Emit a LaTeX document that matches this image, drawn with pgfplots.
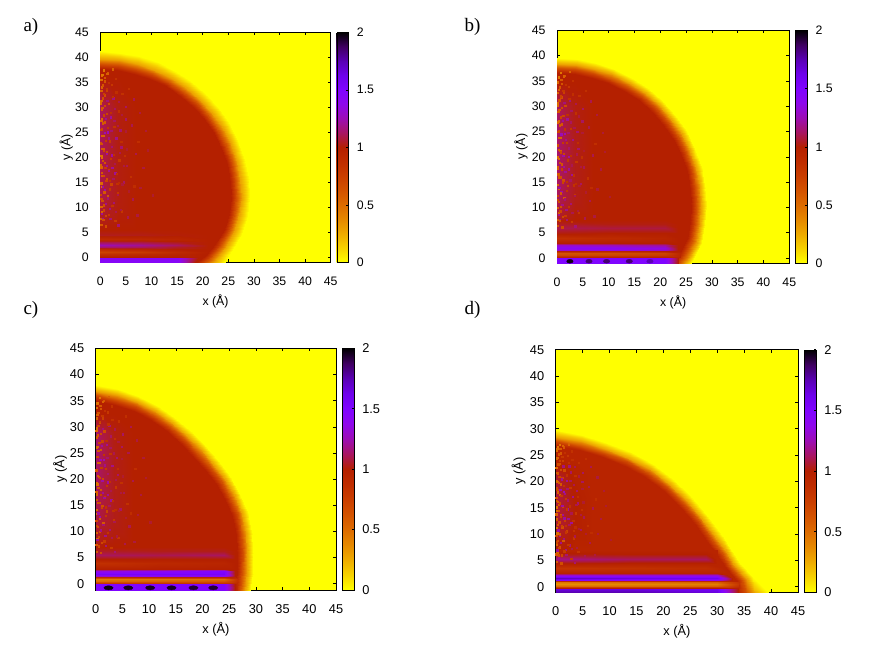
\documentclass[border=0pt]{standalone}
\usepackage{pgfplots}
\usepackage{pgfplotstable}
\pgfplotsset{compat=1.18}
\usepackage{fontspec}
\setmainfont{Liberation Sans}
\newfontfamily\lab{Liberation Serif}
\definecolor{yy}{rgb}{1,1,0}
\pgfplotstableread{
x y v
0.2 6.5 .6
0.5 7.6 1.2
1.1 8.3 .7
0.3 9.1 .55
1.8 9.7 1.18
0.7 10.4 .65
2.6 10.9 1.15
0.2 11.7 .7
1.4 12.2 .6
3.4 12.8 .8
0.8 13.4 1.22
0.3 14.1 .5
2.1 14.6 .72
4.6 15.0 1.12
1.2 15.7 .66
0.4 16.3 .6
2.9 16.8 1.2
1.7 17.4 .75
0.2 18.0 .55
5.2 18.3 1.1
0.9 18.9 .62
3.7 19.4 .8
0.3 20.0 .48
2.2 20.4 1.22
1.3 21.1 .7
0.6 21.6 .58
4.1 22.0 1.14
0.2 22.7 .62
1.9 23.2 .78
3.1 23.8 1.18
0.7 24.3 .55
1.5 25.0 1.25
0.3 25.6 .7
2.7 26.1 .82
6.1 26.4 1.1
0.9 27.0 .6
0.3 27.6 .52
2.0 28.0 1.2
1.2 28.7 .72
3.6 29.2 .85
0.4 29.9 .6
5.0 30.1 1.12
1.6 30.7 .68
0.2 31.3 .5
2.5 31.8 1.16
0.8 32.4 .66
4.3 32.7 .85
1.3 33.3 .74
0.3 34.0 .55
2.2 34.5 .8
0.9 35.2 .62
3.0 35.7 .85
0.3 36.3 .5
1.5 36.8 .6
0.7 37.4 .45
2.4 37.6 .55
7.2 8.4 1.08
6.3 11.6 1.1
7.8 13.9 1.07
5.9 16.1 .85
8.4 17.9 1.08
6.9 20.7 1.1
7.4 23.1 .87
8.9 25.3 1.07
4.9 27.6 1.12
7.7 28.9 1.08
6.5 31.6 1.1
5.6 33.7 .86
2.9 7.3 .78
4.2 9.2 .82
3.5 6.4 1.15
1.0 6.2 .66
5.4 8.0 1.1
3.9 25.4 1.14
2.3 17.9 1.2
4.8 20.3 .85
3.3 14.7 .84
6.6 14.2 .88
9.3 21.4 1.06
10.2 12.4 1.06
}\specks
\pgfplotsset{
 colormap={gp}{
  rgb(0pt)=(1,1,0); rgb(1pt)=(.968,.824,0); rgb(2pt)=(.935,.670,0); rgb(3pt)=(.901,.536,0);
  rgb(4pt)=(.866,.422,0); rgb(5pt)=(.829,.325,0); rgb(6pt)=(.791,.244,0); rgb(7pt)=(.75,.178,0);
  rgb(8pt)=(.707,.125,0); rgb(9pt)=(.661,.084,.383); rgb(10pt)=(.612,.053,.707); rgb(11pt)=(.559,.031,.924);
  rgb(12pt)=(.5,.016,1); rgb(13pt)=(.433,.007,.924); rgb(14pt)=(.354,.002,.707); rgb(15pt)=(.25,0,.383);
  rgb(16pt)=(0,0,0)},
 hm/.style n args={7}{% left, bottom, width, height, ymin, fontsize, ylabel shift
  at={(#1pt,#2pt)}, anchor=south west, scale only axis, width=#3pt, height=#4pt,
  xmin=0, xmax=45, ymin=#5, ymax=45, xtick={0,5,...,45}, ytick={0,5,...,45},
  axis background/.style={fill=yy},
  tick align=inside, major tick length=3pt, tick style={black, line width=.5pt},
  axis line style={line width=.6pt},
  /pgf/number format/assume math mode=true,
  ticklabel style={font=\fontsize{#6}{#6}\selectfont},
  label style={font=\fontsize{#6}{#6}\selectfont},
  xticklabel shift=11pt, yticklabel shift=8pt,
  xlabel={x (Å)}, ylabel={y (Å)},
  x label style={at={(axis description cs:0.5,0)},anchor=center,yshift=-39.4pt},
  y label style={at={(axis description cs:0,0.5)},anchor=center,yshift=#7pt},
  colormap name=gp, point meta min=0, point meta max=2,
  colorbar,
  colorbar style={at={(parent axis.north east)},anchor=north west,xshift=-2.5pt,
    width=11.7pt, height=#4pt, scale only axis, ytick={0,0.5,1,1.5,2},
    tick align=inside, major tick length=2pt, ytick pos=right,
    /pgf/number format/assume math mode=true,
    yticklabel style={font=\fontsize{#6}{#6}\selectfont},
    yticklabel shift=5pt},
 },
 dome/.style={surf, shader=interp, mesh/cols=5, mesh/check=false, point meta=\thisrow{v}},
 over/.style={surf, shader=interp, mesh/cols=4, mesh/check=false, point meta=\thisrow{v}},
 speck/.style={scatter, only marks, mark=square*, mark size=.65pt, scatter src=\thisrow{v},
   scatter/use mapped color={draw=mapped color,fill=mapped color}},
 blob/.style={scatter, only marks, mark=*, scatter src=\thisrow{v},
   scatter/use mapped color={draw=mapped color,fill=mapped color}},
}
\begin{document}
\begin{tikzpicture}
\path[use as bounding box] (0,0) rectangle (880pt,649pt);
\node[font=\lab\fontsize{19}{19}\selectfont,anchor=west] at (20pt,622pt) {a)};
\node[font=\lab\fontsize{19}{19}\selectfont,anchor=west] at (461pt,622pt) {b)};
\node[font=\lab\fontsize{19}{19}\selectfont,anchor=west] at (20pt,339pt) {c)};
\node[font=\lab\fontsize{19}{19}\selectfont,anchor=west] at (461pt,339pt) {d)};

% ---------- a
\begin{axis}[hm={100.3}{386.7}{230.4}{230}{-1}{12.3}{34}]
\addplot[dome] table[row sep=\\,x expr=\thisrow{r}*cos(\thisrow{t}),y expr=12+\thisrow{r}*sin(\thisrow{t})]{t r v\\
90 0 1\\90 25.6 1\\90 26.6 .65\\90 27.6 .28\\90 29.2 0\\
82.5 0 1\\82.5 25.6 1\\82.5 26.6 .65\\82.5 27.6 .28\\82.5 29.2 0\\
75 0 1\\75 25.6 1\\75 26.6 .65\\75 27.6 .28\\75 29.2 0\\
67.5 0 1\\67.5 25.6 1\\67.5 26.6 .65\\67.5 27.6 .28\\67.5 29.2 0\\
60 0 1\\60 25.6 1\\60 26.6 .65\\60 27.6 .28\\60 29.2 0\\
52.5 0 1\\52.5 25.6 1\\52.5 26.6 .65\\52.5 27.6 .28\\52.5 29.2 0\\
45 0 1\\45 25.6 1\\45 26.6 .65\\45 27.6 .28\\45 29.2 0\\
37.5 0 1\\37.5 25.6 1\\37.5 26.6 .65\\37.5 27.6 .28\\37.5 29.2 0\\
30 0 1\\30 25.6 1\\30 26.6 .65\\30 27.6 .28\\30 29.2 0\\
22.5 0 1\\22.5 25.6 1\\22.5 26.6 .65\\22.5 27.6 .28\\22.5 29.2 0\\
15 0 1\\15 25.6 1\\15 26.6 .65\\15 27.6 .28\\15 29.2 0\\
7.5 0 1\\7.5 25.6 1\\7.5 26.6 .65\\7.5 27.6 .28\\7.5 29.2 0\\
0 0 1\\0 25.6 1\\0 26.6 .65\\0 27.6 .28\\0 29.2 0\\
-7.5 0 1\\-7.5 25.4 1\\-7.5 26.4 .65\\-7.5 27.4 .28\\-7.5 29 0\\
-15 0 1\\-15 25 1\\-15 26 .65\\-15 27 .28\\-15 28.6 0\\
-22.5 0 1\\-22.5 24.3 1\\-22.5 25.3 .65\\-22.5 26.3 .28\\-22.5 27.9 0\\
-30 0 1\\-30 23.5 1\\-30 24.5 .65\\-30 25.7 .28\\-30 27.4 0\\
-45 0 1\\-45 22 1\\-45 23 .65\\-45 24 .28\\-45 26 0\\
};
\addplot[over] table[row sep=\\,x=x,y=y]{x y v\\
0 5.5 1.0\\1.5 5.5 1.0\\3.5 5.5 1\\7 5.5 1\\
0 12 1.1\\1.5 12 1.06\\3.5 12 1.02\\7 12 1\\
0 18 1.1\\1.5 18 1.06\\3.5 18 1.02\\7 18 1\\
0 24 1.12\\1.5 24 1.07\\3.5 24 1.02\\7 24 1\\
0 30 1.12\\1.5 30 1.07\\3.5 30 1.02\\7 30 1\\
0 36 1\\1.5 36 1\\3.5 36 1\\7 36 1\\
};
\addplot[speck] table[x=x,y expr=\thisrow{y}*1.0] {\specks};
\addplot[speck] table[x expr=\thisrow{x}*.55,y expr=\thisrow{y}*.93+1.7] {\specks};
\addplot[over] table[row sep=\\,x=x,y=y]{x y v\\
0 -1 1.45\\8 -1 1.45\\15 -1 1.45\\18.5 -1 1\\
0 -.15 1.45\\8 -.15 1.45\\15 -.15 1.45\\19 -.15 1\\
0 .1 1\\8 .1 1\\15 .1 1\\20 .1 1\\
0 .6 .85\\8 .6 .9\\15 .6 .95\\20 .6 1\\
0 1.1 .72\\8 1.1 .78\\15 1.1 .9\\21 1.1 1\\
0 1.6 .9\\8 1.6 .95\\15 1.6 1\\21 1.6 1\\
0 2 1.15\\8 2 1.12\\15 2 1.05\\21 2 1\\
0 2.5 1.25\\8 2.5 1.2\\15 2.5 1.12\\21 2.5 1\\
0 3 1.1\\8 3 1.08\\15 3 1.03\\21 3 1\\
0 3.6 .9\\8 3.6 .92\\15 3.6 .95\\21 3.6 1\\
0 4.5 1.04\\8 4.5 1.03\\15 4.5 1.01\\21 4.5 1\\
0 5.5 1\\8 5.5 1\\15 5.5 1\\21 5.5 1\\
};
\end{axis}

% ---------- b
\begin{axis}[hm={557}{385.7}{232.3}{233}{-1.05}{12.3}{36}]
\addplot[dome] table[row sep=\\,x expr=\thisrow{r}*cos(\thisrow{t}),y expr=10.5+\thisrow{r}*sin(\thisrow{t})]{t r v\\
90 0 1\\90 26 1\\90 27 .65\\90 27.9 .28\\90 29 0\\
82.5 0 1\\82.5 26 1\\82.5 27 .65\\82.5 27.9 .28\\82.5 29 0\\
75 0 1\\75 26 1\\75 27 .65\\75 27.9 .28\\75 29 0\\
67.5 0 1\\67.5 26 1\\67.5 27 .65\\67.5 27.9 .28\\67.5 29 0\\
60 0 1\\60 26 1\\60 27 .65\\60 27.9 .28\\60 29 0\\
52.5 0 1\\52.5 26 1\\52.5 27 .65\\52.5 27.9 .28\\52.5 29 0\\
45 0 1\\45 26 1\\45 27 .65\\45 27.9 .28\\45 29 0\\
37.5 0 1\\37.5 26 1\\37.5 27 .65\\37.5 27.9 .28\\37.5 29 0\\
30 0 1\\30 26 1\\30 27 .65\\30 27.9 .28\\30 29 0\\
22.5 0 1\\22.5 26 1\\22.5 27 .65\\22.5 27.9 .28\\22.5 29 0\\
15 0 1\\15 26 1\\15 27 .65\\15 27.9 .28\\15 29 0\\
7.5 0 1\\7.5 26 1\\7.5 27 .65\\7.5 27.9 .28\\7.5 29 0\\
0 0 1\\0 26 1\\0 27 .65\\0 27.9 .28\\0 29 0\\
-7.5 0 1\\-7.5 26 1\\-7.5 27 .65\\-7.5 28 .28\\-7.5 29 0\\
-15 0 1\\-15 26 1\\-15 27 .65\\-15 28 .28\\-15 29 0\\
-22.5 0 1\\-22.5 25.6 1\\-22.5 26.6 .65\\-22.5 27.6 .28\\-22.5 28.6 0\\
-30 0 1\\-30 25 1\\-30 26 .65\\-30 27 .28\\-30 28 0\\
-45 0 1\\-45 23 1\\-45 24 .65\\-45 26 .28\\-45 28 0\\
};
\addplot[over] table[row sep=\\,x=x,y=y]{x y v\\
0 7.5 1.05\\1.5 7.5 1.02\\3.5 7.5 1\\7 7.5 1\\
0 12 1.12\\1.5 12 1.08\\3.5 12 1.03\\7 12 1\\
0 18 1.14\\1.5 18 1.09\\3.5 18 1.03\\7 18 1\\
0 24 1.14\\1.5 24 1.09\\3.5 24 1.03\\7 24 1\\
0 30 1.12\\1.5 30 1.07\\3.5 30 1.02\\7 30 1\\
0 34.5 1\\1.5 34.5 1\\3.5 34.5 1\\7 34.5 1\\
};
\addplot[speck] table[x=x,y expr=\thisrow{y}*.98] {\specks};
\addplot[speck] table[x expr=\thisrow{x}*.55,y expr=\thisrow{y}*.91+1.7] {\specks};
\addplot[over] table[row sep=\\,x=x,y=y]{x y v\\
0 -1.05 1.5\\10 -1.05 1.5\\21 -1.05 1.5\\23.5 -1.05 1\\
0 -.1 1.5\\10 -.1 1.5\\21 -.1 1.5\\23.5 -.1 1\\
0 .15 .95\\10 .15 .95\\21 .15 .95\\24 .15 .95\\
0 .5 .7\\10 .5 .72\\21 .5 .78\\24 .5 .95\\
0 .9 .62\\10 .9 .65\\21 .9 .72\\24 .9 .95\\
0 1.3 1\\10 1.3 .95\\21 1.3 1\\24 1.3 1\\
0 1.6 1.3\\10 1.6 1.35\\21 1.6 1.3\\23.5 1.6 1\\
0 2 1.42\\10 2 1.42\\21 2 1.35\\23.5 2 1\\
0 2.5 1.3\\10 2.5 1.25\\21 2.5 1.2\\23.5 2.5 1\\
0 3 1\\10 3 1\\21 3 1\\23.5 3 1\\
0 4 .85\\10 4 .9\\21 4 .95\\23.5 4 1\\
0 5 1.02\\10 5 1\\21 5 1\\23.5 5 1\\
0 5.9 1.1\\10 5.9 1.08\\21 5.9 1.08\\23.5 5.9 1\\
0 6.8 1.05\\10 6.8 1.02\\21 6.8 1.02\\23.5 6.8 1\\
0 7.5 1\\10 7.5 1\\21 7.5 1\\23.5 7.5 1\\
};
\addplot[blob,mark size=1.9pt,mark options={xscale=1.7}] table[row sep=\\,x=x,y=y]{x y v\\
2.5 -.65 1.97\\6.2 -.65 1.85\\9.6 -.65 1.85\\14 -.65 1.85\\18 -.65 1.75\\
};
\end{axis}

% ---------- c
\begin{axis}[hm={95.7}{59}{240.3}{241.7}{-1.2}{12.8}{35.7}]
\addplot[dome] table[row sep=\\,x expr=\thisrow{r}*cos(\thisrow{t}),y expr=6+\thisrow{r}*sin(\thisrow{t})]{t r v\\
90 0 1\\90 29 1\\90 30 .65\\90 30.9 .28\\90 32 0\\
82.5 0 1\\82.5 28.4 1\\82.5 29.4 .65\\82.5 30.3 .28\\82.5 31.4 0\\
75 0 1\\75 27.9 1\\75 28.9 .65\\75 29.8 .28\\75 30.9 0\\
67.5 0 1\\67.5 27.3 1\\67.5 28.3 .65\\67.5 29.2 .28\\67.5 30.3 0\\
60 0 1\\60 26.7 1\\60 27.7 .65\\60 28.6 .28\\60 29.7 0\\
52.5 0 1\\52.5 26.2 1\\52.5 27.2 .65\\52.5 28.1 .28\\52.5 29.2 0\\
45 0 1\\45 25.9 1\\45 26.9 .65\\45 27.8 .28\\45 28.9 0\\
37.5 0 1\\37.5 25.9 1\\37.5 26.9 .65\\37.5 27.8 .28\\37.5 28.9 0\\
30 0 1\\30 26.1 1\\30 27.1 .65\\30 28 .28\\30 29.1 0\\
22.5 0 1\\22.5 26.3 1\\22.5 27.3 .65\\22.5 28.2 .28\\22.5 29.3 0\\
15 0 1\\15 26.5 1\\15 27.5 .65\\15 28.4 .28\\15 29.5 0\\
7.5 0 1\\7.5 26.5 1\\7.5 27.5 .65\\7.5 28.4 .28\\7.5 29.5 0\\
0 0 1\\0 26.5 1\\0 27.5 .65\\0 28.4 .28\\0 29.5 0\\
-7.5 0 1\\-7.5 26.7 1\\-7.5 27.7 .65\\-7.5 28.6 .28\\-7.5 29.7 0\\
-15 0 1\\-15 27 1\\-15 28 .65\\-15 28.9 .28\\-15 30 0\\
-30 0 1\\-30 27.5 1\\-30 28.5 .65\\-30 29.4 .28\\-30 30.5 0\\
-45 0 1\\-45 27.5 1\\-45 28.5 .65\\-45 29.4 .28\\-45 30.5 0\\
};
\addplot[over] table[row sep=\\,x=x,y=y]{x y v\\
0 7 1.02\\1.5 7 1\\3.5 7 1\\7 7 1\\
0 12 1.08\\1.5 12 1.06\\3.5 12 1.03\\7 12 1\\
0 18 1.12\\1.5 18 1.08\\3.5 18 1.03\\7 18 1\\
0 24 1.14\\1.5 24 1.09\\3.5 24 1.03\\7 24 1\\
0 29 1.14\\1.5 29 1.08\\3.5 29 1.02\\7 29 1\\
0 32.5 1\\1.5 32.5 1\\3.5 32.5 1\\7 32.5 1\\
};
\addplot[speck] table[x=x,y expr=\thisrow{y}*.95] {\specks};
\addplot[speck] table[x expr=\thisrow{x}*.55,y expr=\thisrow{y}*.88+1.7] {\specks};
\addplot[over] table[row sep=\\,x=x,y=y]{x y v\\
0 -1.2 1.5\\12 -1.2 1.5\\24 -1.2 1.5\\26.5 -1.2 .9\\
0 -.1 1.5\\12 -.1 1.5\\24 -.1 1.5\\26.5 -.1 .9\\
0 .1 .8\\12 .1 .8\\24 .1 .8\\26.5 .1 .9\\
0 .5 .5\\12 .5 .55\\24 .5 .6\\26.5 .5 .85\\
0 .85 .42\\12 .85 .45\\24 .85 .48\\26.5 .85 .85\\
0 1.2 .9\\12 1.2 .95\\24 1.2 .95\\26 1.2 .95\\
0 1.5 1.3\\12 1.5 1.4\\24 1.5 1.4\\26 1.5 1\\
0 1.9 1.55\\12 1.9 1.55\\24 1.9 1.55\\26 1.9 1\\
0 2.4 1.35\\12 2.4 1.4\\24 2.4 1.5\\26 2.4 1\\
0 2.9 1\\12 2.9 1\\24 2.9 1\\26 2.9 1\\
0 4 .85\\12 4 .92\\24 4 .95\\26 4 1\\
0 4.8 1\\12 4.8 1\\24 4.8 1\\26 4.8 1\\
0 5.5 1.12\\12 5.5 1.1\\24 5.5 1.12\\26 5.5 1\\
0 6.3 1.05\\12 6.3 1.03\\24 6.3 1.03\\26 6.3 1\\
0 7 1\\12 7 1\\24 7 1\\26 7 1\\
};
\addplot[blob,mark size=2.1pt,mark options={xscale=2.2}] table[row sep=\\,x=x,y=y]{x y v\\
2.4 -.78 1.97\\6.1 -.78 1.95\\10.2 -.78 1.95\\14.2 -.78 1.95\\18.3 -.78 1.93\\22 -.78 1.93\\
};
\end{axis}

% ---------- d
\begin{axis}[hm={555.7}{56.7}{242.3}{242.6}{-1.07}{12.8}{37}]
\addplot[dome] table[row sep=\\,x expr=\thisrow{r}*cos(\thisrow{t}),y expr=-8+\thisrow{r}*sin(\thisrow{t})]{t r v\\
90 0 .96\\90 34.8 .96\\90 35.7 .65\\90 36.5 .28\\90 37.7 0\\
82.5 0 .96\\82.5 34.2 .96\\82.5 35.1 .65\\82.5 35.9 .28\\82.5 37.1 0\\
75 0 .96\\75 33.7 .96\\75 34.6 .65\\75 35.4 .28\\75 36.6 0\\
67.5 0 .96\\67.5 33.5 .96\\67.5 34.4 .65\\67.5 35.2 .28\\67.5 36.4 0\\
60 0 .96\\60 33.3 .96\\60 34.2 .65\\60 35 .28\\60 36.2 0\\
52.5 0 .96\\52.5 33 .96\\52.5 33.9 .65\\52.5 34.7 .28\\52.5 35.9 0\\
45 0 .96\\45 32.7 .96\\45 33.6 .65\\45 34.4 .28\\45 35.6 0\\
37.5 0 .96\\37.5 32.6 .96\\37.5 33.5 .65\\37.5 34.3 .28\\37.5 35.5 0\\
30 0 .96\\30 32.7 .96\\30 33.6 .65\\30 34.4 .28\\30 35.6 0\\
25 0 .96\\25 33.1 .96\\25 34 .65\\25 34.8 .28\\25 36 0\\
20 0 .96\\20 33.6 .96\\20 34.4 .65\\20 35.3 .28\\20 36.5 0\\
15 0 .96\\15 34.8 .96\\15 35.8 .65\\15 36.8 .28\\15 38 0\\
10 0 .96\\10 34.5 .96\\10 36 .65\\10 37.5 .28\\10 40 0\\
0 0 .96\\0 34.5 .96\\0 36 .65\\0 37.5 .28\\0 40 0\\
};
\addplot[over] table[row sep=\\,x=x,y=y]{x y v\\
0 7 1\\1.5 7 1\\3.5 7 .96\\7 7 .96\\
0 12 1.06\\1.5 12 1.05\\3.5 12 1\\7 12 .96\\
0 17 1.08\\1.5 17 1.05\\3.5 17 1\\7 17 .96\\
0 21 1.06\\1.5 21 1.03\\3.5 21 .98\\7 21 .96\\
0 24.5 .96\\1.5 24.5 .96\\3.5 24.5 .96\\7 24.5 .96\\
};
\addplot[speck] table[x=x,y expr=\thisrow{y}*.72] {\specks};
\addplot[speck] table[x expr=\thisrow{x}*.55,y expr=\thisrow{y}*.66+1.9] {\specks};
\addplot[over] table[row sep=\\,x=x,y=y]{x y v\\
0 -1.07 1.75\\14 -1.07 1.75\\30 -1.07 1.65\\33.8 -1.07 1\\
0 -.4 1.65\\14 -.4 1.65\\30 -.4 1.6\\33.8 -.4 1\\
0 -.2 1\\14 -.2 1\\30 -.2 1\\33.8 -.2 .97\\
0 .1 .5\\14 .1 .5\\30 .1 .55\\34 .1 .85\\
0 .55 .35\\14 .55 .38\\30 .55 .42\\34 .55 .8\\
0 .95 .45\\14 .95 .5\\30 .95 .55\\34 .95 .85\\
0 1.1 .9\\14 1.1 .9\\30 1.1 .9\\33 1.1 .96\\
0 1.3 1.5\\14 1.3 1.4\\30 1.3 1.4\\33 1.3 .96\\
0 1.7 1.72\\14 1.7 1.65\\30 1.7 1.6\\33 1.7 .96\\
0 2.2 1.3\\14 2.2 1.3\\30 2.2 1.3\\32 2.2 .96\\
0 2.6 .96\\14 2.6 .96\\30 2.6 .96\\32 2.6 .96\\
0 3.6 .82\\14 3.6 .85\\28 3.6 .88\\31 3.6 .96\\
0 4.3 .97\\14 4.3 .96\\28 4.3 .96\\30 4.3 .96\\
0 5.2 1.18\\14 5.2 1.12\\28 5.2 1.12\\30 5.2 .96\\
0 6.2 1.02\\14 6.2 1\\28 6.2 1\\30 6.2 .96\\
0 7 .96\\14 7 .96\\28 7 .96\\30 7 .96\\
};
\end{axis}
\end{tikzpicture}
\end{document}
